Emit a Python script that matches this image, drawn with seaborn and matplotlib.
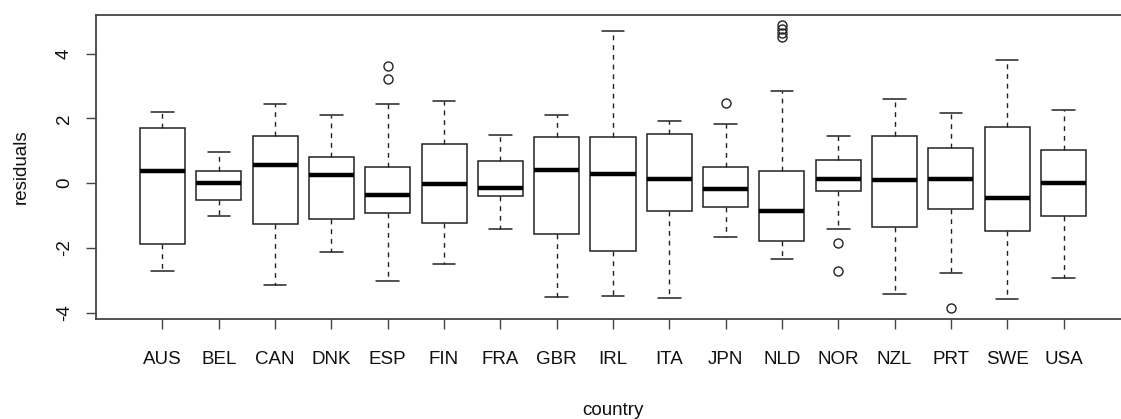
import numpy as np
import pandas as pd
import matplotlib
matplotlib.use("Agg")
import matplotlib.pyplot as plt
import seaborn as sns

# ---- data (box-plot statistics per country) ----
countries = ["AUS", "BEL", "CAN", "DNK", "ESP", "FIN", "FRA", "GBR", "IRL",
             "ITA", "JPN", "NLD", "NOR", "NZL", "PRT", "SWE", "USA"]
whisker_low = [-2.72, -1.00, -3.14, -2.13, -3.01, -2.48, -1.42, -3.51, -3.48,
               -3.55, -1.66, -2.35, -1.42, -3.42, -2.76, -3.58, -2.92]
quartile_1 = [-1.88, -0.52, -1.26, -1.11, -0.93, -1.23, -0.39, -1.57, -2.08,
              -0.86, -0.72, -1.78, -0.25, -1.34, -0.79, -1.49, -1.02]
medians = [0.37, 0.02, 0.56, 0.25, -0.36, -0.02, -0.15, 0.40, 0.29,
           0.13, -0.18, -0.85, 0.14, 0.09, 0.13, -0.46, 0.01]
quartile_3 = [1.71, 0.39, 1.45, 0.81, 0.51, 1.21, 0.68, 1.43, 1.42,
              1.51, 0.51, 0.37, 0.72, 1.47, 1.09, 1.74, 1.01]
whisker_high = [2.19, 0.96, 2.44, 2.10, 2.43, 2.55, 1.49, 2.11, 4.70,
                1.91, 1.82, 2.83, 1.45, 2.59, 2.16, 3.80, 2.25]
outliers = {
    "ESP": [3.63, 3.21],
    "JPN": [2.47],
    "NLD": [4.88, 4.75, 4.62, 4.50],
    "NOR": [-1.84, -2.71],
    "PRT": [-3.86],
}

# Build a sample per country whose quartiles / whiskers reproduce the stats
rows = []
for i, c in enumerate(countries):
    for v in (whisker_low[i], quartile_1[i], medians[i], quartile_3[i], whisker_high[i]):
        rows += [(c, v)] * 20
    rows += [(c, v) for v in outliers.get(c, [])]
df = pd.DataFrame(rows, columns=["country", "residuals"])

sns.set_theme(style="white")
plt.rcParams["font.family"] = ["Liberation Sans", "DejaVu Sans"]

dpi = 100
fig = plt.figure(figsize=(1121 / dpi, 419 / dpi), dpi=dpi)
ax = fig.add_axes([96 / 1121, 1 - 319.3 / 419, (1130 - 96) / 1121, (319.3 - 14.7) / 419])

edge = "#222222"
sns.boxplot(
    data=df, x="country", y="residuals", order=countries, ax=ax,
    color="white", saturation=1, linecolor=edge, linewidth=1.1, width=0.8, whis=1.5,
    medianprops=dict(color="black", linewidth=3.2),
    whiskerprops=dict(linestyle=(0, (3.5, 3.5)), color=edge, linewidth=1.0),
    capprops=dict(color=edge, linewidth=1.1),
    flierprops=dict(marker="o", markerfacecolor="none", markeredgecolor=edge,
                    markersize=6.5, markeredgewidth=1.0),
)

# R-style ranges: categories at 0..16, padded by 4% of the span
ax.set_xlim(-0.5 - 0.04 * 17, 16.5 + 0.04 * 17)
ax.set_ylim(-4.2, 5.2)
ax.set_yticks([-4, -2, 0, 2, 4])
ax.set_yticklabels(["-4", "-2", "0", "2", "4"], rotation=90, va="center")

for name, s in ax.spines.items():
    s.set_visible(name != "right")
    s.set_color("#444444")
    s.set_linewidth(1.3)

ax.tick_params(axis="both", direction="out", length=7.5, width=1.0, color="#444444",
               labelsize=13.5, labelcolor="#111111")
ax.tick_params(axis="x", pad=15, bottom=True)
ax.tick_params(axis="y", pad=9, left=True)

ax.set_xlabel("country", fontsize=13.5, color="#111111", labelpad=25)
ax.set_ylabel("residuals", fontsize=13.5, color="#111111", labelpad=19)
ax.grid(False)

fig.savefig("out.png", dpi=dpi)
